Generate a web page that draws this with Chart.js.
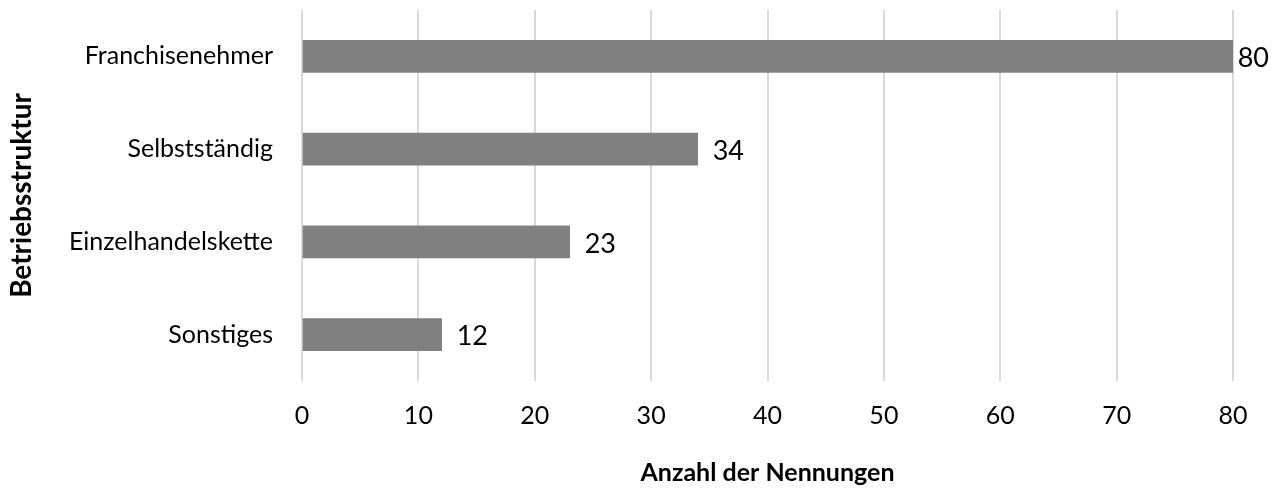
<!DOCTYPE html>
<html>
<head>
<meta charset="utf-8">
<script src="https://cdn.jsdelivr.net/npm/chart.js@4/dist/chart.umd.min.js"></script>
<style>
  html, body { margin: 0; padding: 0; background: #fff; }
  #wrap { width: 1278px; height: 488px; }
</style>
</head>
<body>
<div id="wrap"><canvas id="chart" width="1278" height="488"></canvas></div>
<script>
// ---------- Data ----------
var categories = ['Franchisenehmer', 'Selbstständig', 'Einzelhandelskette', 'Sonstiges'];
var counts = [80, 34, 23, 12];
var xTicks = [0, 10, 20, 30, 40, 50, 60, 70, 80];

var FONT = 'Lato, "Open Sans", sans-serif';

// value labels at the end of each bar
var barLabels = {
  id: 'barLabels',
  afterDatasetsDraw: function (chart) {
    var ctx = chart.ctx;
    var meta = chart.getDatasetMeta(0);
    ctx.save();
    ctx.font = '27px ' + FONT;
    ctx.fillStyle = '#000';
    ctx.textAlign = 'left';
    ctx.textBaseline = 'middle';
    meta.data.forEach(function (bar, i) {
      var txt = String(counts[i]);
      var w = ctx.measureText(txt).width;
      var x = Math.min(bar.x + 15, chart.width - w - 9);
      ctx.fillText(txt, x, bar.y + 2);
    });
    ctx.restore();
  }
};

new Chart(document.getElementById('chart'), {
  type: 'bar',
  data: {
    labels: categories,
    datasets: [{
      data: counts,
      backgroundColor: '#808080',
      borderWidth: 0,
      barThickness: 32
    }]
  },
  options: {
    indexAxis: 'y',
    responsive: false,
    animation: false,
    layout: { padding: { top: 10, right: 45, bottom: 0, left: 0 } },
    plugins: { legend: { display: false }, tooltip: { enabled: false } },
    scales: {
      x: {
        min: 0,
        max: 80,
        afterBuildTicks: function (scale) {
          scale.ticks = xTicks.map(function (v) { return { value: v }; });
        },
        afterFit: function (scale) {
          scale.height = 107;
          scale.paddingLeft = 0;
          scale.paddingRight = 0;
        },
        grid: { color: '#d9d9d9', lineWidth: 2, drawTicks: false },
        border: { display: false },
        ticks: { color: '#000', font: { family: FONT, size: 25 }, padding: 20 },
        title: {
          display: true,
          text: 'Anzahl der Nennungen',
          color: '#000',
          font: { family: FONT, size: 25, weight: 'bold' },
          padding: { top: 0, bottom: 0 }
        }
      },
      y: {
        afterFit: function (scale) {
          scale.width = 302;
          scale.paddingTop = 0;
          scale.paddingBottom = 0;
        },
        grid: { display: false },
        border: { display: false },
        ticks: { color: '#000', font: { family: FONT, size: 25 }, padding: 21 },
        title: {
          display: true,
          text: 'Betriebsstruktur',
          color: '#000',
          font: { family: FONT, size: 28, weight: 'bold' },
          padding: { top: 5, bottom: 0 }
        }
      }
    }
  },
  plugins: [barLabels]
});
</script>
</body>
</html>
